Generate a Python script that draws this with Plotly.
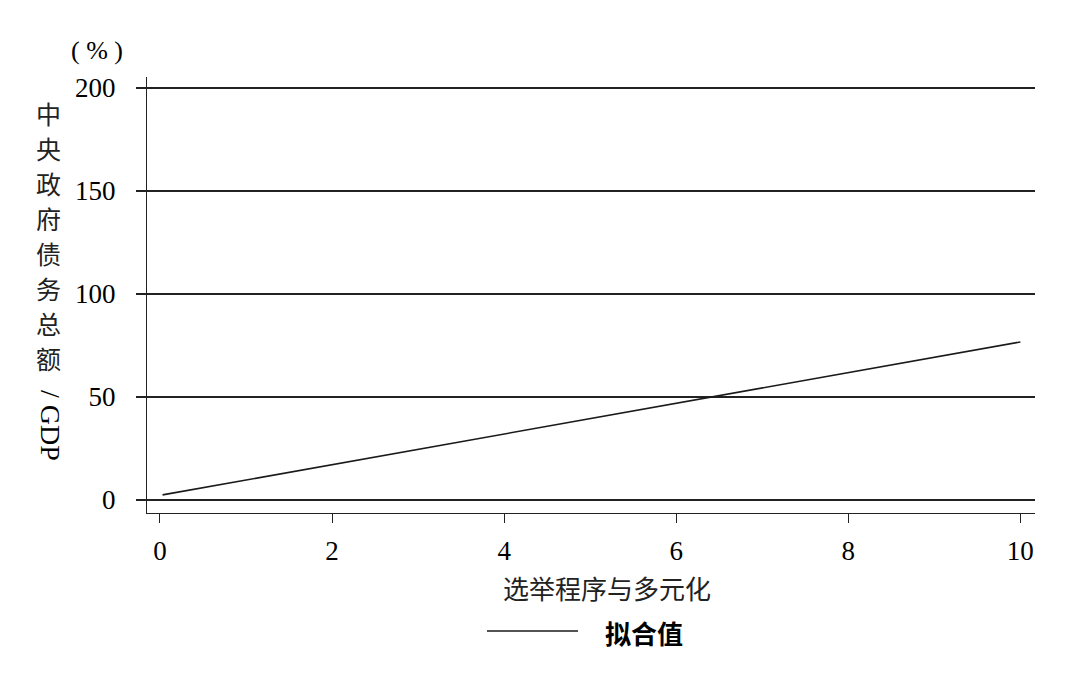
import plotly.graph_objects as go

# fitted line endpoints
x_vals = [0.03, 10.0]
fit_vals = [2.5, 76.7]

y_ticks = [0, 50, 100, 150, 200]
x_ticks = [0, 2, 4, 6, 8, 10]

y_title_chars = ["中", "央", "政", "府", "债", "务", "总", "额"]
x_title = "选举程序与多元化"
legend_name = "拟合值"

serif = "Liberation Serif"
cjk = "Noto Sans CJK SC"

W, H = 1070, 683
L, R, T, B = 147, 35, 77, 170
plot_h = H - T - B


def py(pix):
    # page pixel row -> paper y
    return (H - B - pix) / plot_h


def px(pix):
    return (pix - L) / (W - L - R)


fig = go.Figure()

fig.add_trace(go.Scatter(
    x=x_vals,
    y=fit_vals,
    mode="lines",
    name=legend_name,
    showlegend=False,
    line=dict(color="#1a1a1a", width=1.6),
))

fig.update_layout(
    width=W,
    height=H,
    margin=dict(l=L, r=R, t=T, b=B),
    plot_bgcolor="white",
    paper_bgcolor="white",
    font=dict(family=serif, size=27, color="black"),
    showlegend=False,
    xaxis=dict(
        range=[-0.151, 10.17],
        tickvals=x_ticks,
        ticks="outside",
        ticklen=9,
        tickcolor="#222",
        tickwidth=1.2,
        showgrid=False,
        zeroline=False,
        showline=True,
        linecolor="#222",
        linewidth=1.2,
        ticklabelstandoff=4,
        tickfont=dict(family=serif, size=27),
    ),
    yaxis=dict(
        range=[-6.3, 205.3],
        tickvals=y_ticks,
        ticks="outside",
        ticklen=10,
        tickcolor="#222",
        tickwidth=1.5,
        showgrid=True,
        gridcolor="#222",
        gridwidth=1.5,
        zeroline=False,
        showline=True,
        linecolor="#222",
        linewidth=1.2,
        ticklabelstandoff=15,
        tickfont=dict(family=serif, size=27),
    ),
)

annotations = []
# vertical y-axis title, one character per row
for i, ch in enumerate(y_title_chars):
    annotations.append(dict(
        text=ch, xref="paper", yref="paper",
        x=px(48), y=py(113 + 35 * i),
        xanchor="center", yanchor="middle",
        showarrow=False,
        font=dict(family=cjk, size=25, color="#222"),
    ))
annotations.append(dict(
    text="/ GDP", xref="paper", yref="paper",
    x=px(51), y=py(425),
    xanchor="center", yanchor="middle",
    textangle=90, showarrow=False,
    font=dict(family=serif, size=28, color="black"),
))
annotations.append(dict(
    text="( % )", xref="paper", yref="paper",
    x=px(97), y=py(50),
    xanchor="center", yanchor="middle",
    showarrow=False,
    font=dict(family=serif, size=26, color="black"),
))
annotations.append(dict(
    text=x_title, xref="paper", yref="paper",
    x=px(607), y=py(587),
    xanchor="center", yanchor="middle",
    showarrow=False,
    font=dict(family=cjk, size=26, color="#222"),
))
# legend drawn by hand: line sample + bold label
annotations.append(dict(
    text=legend_name, xref="paper", yref="paper",
    x=px(603), y=py(632),
    xanchor="left", yanchor="middle",
    showarrow=False,
    font=dict(family=cjk, size=26, color="black", weight="bold"),
))
fig.update_layout(annotations=annotations)
fig.add_shape(
    type="line", xref="paper", yref="paper",
    x0=px(487), x1=px(578), y0=py(631), y1=py(631),
    line=dict(color="#1a1a1a", width=1.6),
)

fig.write_html(
    "out.html",
    config={"displayModeBar": False},
    post_script="document.body.style.margin='0';",
)
